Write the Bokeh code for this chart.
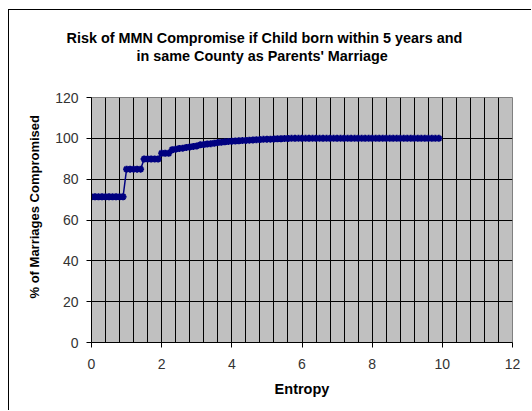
from bokeh.plotting import figure
from bokeh.models import Range1d, FixedTicker, Title
from bokeh.embed import file_html
from bokeh.resources import INLINE

# ---- data ----
entropy = [round(i * 0.1, 1) for i in range(100)]
pct_compromised = [
    71.4, 71.4, 71.4, 71.4, 71.4, 71.4, 71.4, 71.4, 71.4, 71.4,
    84.9, 84.9, 84.9, 84.9, 84.9,
    89.9, 89.9, 89.9, 89.9, 89.9,
    92.7, 92.7, 92.7,
    94.4, 94.7, 95.0, 95.2, 95.5, 95.8, 96.0, 96.3, 96.8, 97.0,
    97.2, 97.4, 97.6, 97.9, 98.1, 98.3, 98.4, 98.6, 98.7, 98.8,
    98.9, 99.0, 99.1, 99.2, 99.3, 99.4, 99.5, 99.6, 99.6, 99.7,
    99.8, 99.8, 99.9, 99.9, 100.0, 100.0, 100.0, 100.0, 100.0, 100.0,
    100.0, 100.0, 100.0, 100.0, 100.0, 100.0, 100.0, 100.0, 100.0, 100.0,
    100.0, 100.0, 100.0, 100.0, 100.0, 100.0, 100.0, 100.0, 100.0, 100.0,
    100.0, 100.0, 100.0, 100.0, 100.0, 100.0, 100.0, 100.0, 100.0, 100.0,
    100.0, 100.0, 100.0, 100.0, 100.0, 100.0, 100.0,
]
x_ticks = [0, 2, 4, 6, 8, 10, 12]
y_ticks = [0, 20, 40, 60, 80, 100, 120]
title_line1 = "Risk of MMN Compromise if Child born within 5 years and"
title_line2 = "in same County as Parents' Marriage"
x_label = "Entropy"
y_label = "% of Marriages Compromised"

FONT = "Liberation Sans"

p = figure(
    width=523, height=401,
    output_backend="svg", toolbar_location=None,
    x_range=Range1d(0, 12), y_range=Range1d(0, 120),
    min_border_left=82, min_border_right=20,
    min_border_top=87, min_border_bottom=69,
    background_fill_color="#C0C0C0",
    border_fill_color="white",
    outline_line_color="#808080",
)
p.styles = {"margin-left": "8px", "margin-top": "9px",
            "border-left": "1px solid black", "border-top": "1px solid black"}

p.title.text = ""

# spacer between plot area and title (nearest the frame)
p.add_layout(Title(text=" ", text_font_size="1px", standoff=31), "above")

def title_line(txt, off):
    return Title(text=txt, align="left", offset=off, standoff=0,
                 text_font=FONT, text_font_size="14.4px",
                 text_font_style="bold", text_color="black")

p.add_layout(title_line(title_line2, 45), "above")
p.add_layout(title_line(title_line1, -25), "above")

# y-axis title, shifted upward as in the original
p.add_layout(Title(text=y_label, align="left", offset=44, standoff=22,
                   text_font=FONT, text_font_size="13px",
                   text_font_style="bold", text_color="black"), "left")

for ax in (p.xaxis[0], p.yaxis[0]):
    ax.axis_line_color = "black"
    ax.major_tick_line_color = "black"
    ax.major_tick_out = 5
    ax.major_tick_in = 0
    ax.minor_tick_line_color = None
    ax.major_label_text_font = FONT
    ax.major_label_text_font_size = "14px"
    ax.major_label_text_color = "#333333"
    ax.axis_label_text_font = FONT
    ax.axis_label_text_font_style = "bold"
    ax.axis_label_text_color = "black"

p.xaxis[0].ticker = FixedTicker(ticks=x_ticks)
p.yaxis[0].ticker = FixedTicker(ticks=y_ticks)
p.xaxis[0].axis_label = x_label
p.xaxis[0].axis_label_text_font_size = "14.5px"
p.xaxis[0].major_label_standoff = 11
p.yaxis[0].major_label_standoff = 8
p.xaxis[0].axis_label_standoff = 9

p.xgrid[0].ticker = FixedTicker(ticks=[i * 0.4 for i in range(31)])
p.xgrid[0].grid_line_color = "black"
p.ygrid[0].ticker = FixedTicker(ticks=y_ticks)
p.ygrid[0].grid_line_color = "black"

p.line(entropy, pct_compromised, line_color="#000080", line_width=1.5)
p.scatter(entropy, pct_compromised, marker="asterisk", size=7,
          line_color="#000080", line_width=2)

open("out.html", "w").write(file_html(p, INLINE))
